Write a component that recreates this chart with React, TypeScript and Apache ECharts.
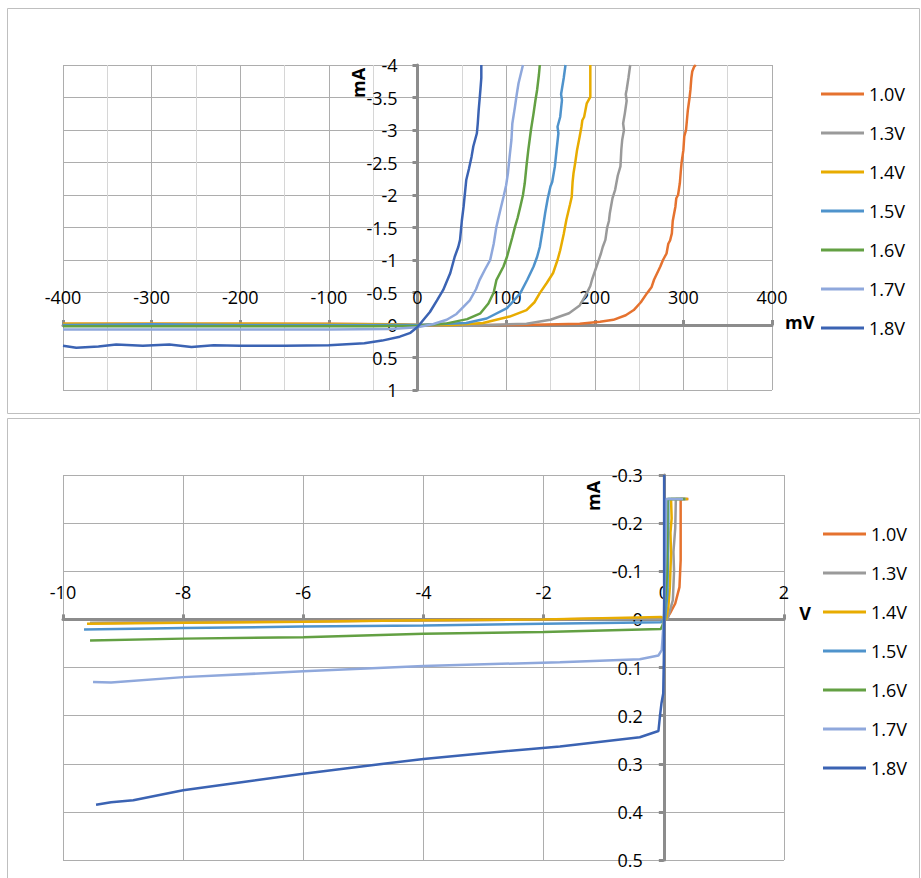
import React, { useEffect, useRef } from "react";
import * as echarts from "echarts";

// ---------- data ----------
const SERIES_NAMES = ["1.0V", "1.3V", "1.4V", "1.5V", "1.6V", "1.7V", "1.8V"];
const SERIES_COLORS = ["#E5722F", "#9A9A9A", "#E8AC00", "#4F93CC", "#63A043", "#8FA8DC", "#3B63B3"];

// Top chart: x in mV, y in mA
const TOP_X_TICKS = [-400, -300, -200, -100, 0, 100, 200, 300, 400];
const TOP_Y_TICKS = [-4, -3.5, -3, -2.5, -2, -1.5, -1, -0.5, 0, 0.5, 1];

const top10V = [[-400, -0.02], [-300, -0.02], [-200, -0.02], [-100, -0.02], [-30, -0.01], [0, 0], [60, 0.0], [120, 0.0], [183, -0.02], [206, -0.05], [221, -0.08], [235, -0.15], [244, -0.23], [252, -0.35], [259, -0.49], [264, -0.58], [267, -0.7], [274, -0.9], [277, -1.0], [281, -1.1], [283, -1.25], [285, -1.3], [287, -1.41], [288, -1.6], [291, -1.82], [292, -1.95], [294, -2.0], [296, -2.18], [297, -2.35], [298, -2.5], [300, -2.69], [301, -2.9], [303, -3.0], [304, -3.15], [305, -3.3], [306, -3.4], [307, -3.5], [308, -3.62], [309, -3.8], [310, -3.9], [312, -3.97], [314, -4.0]];
const top13V = [[-400, -0.01], [-200, -0.01], [-50, -0.01], [0, 0], [60, 0.01], [123, -0.02], [150, -0.08], [171, -0.18], [183, -0.3], [191, -0.49], [195, -0.6], [197, -0.7], [202, -0.9], [207, -1.1], [209, -1.2], [212, -1.31], [214, -1.5], [216, -1.6], [217, -1.72], [220, -1.95], [223, -2.08], [226, -2.3], [229, -2.44], [230, -2.7], [231, -2.85], [233, -3.0], [232, -3.1], [234, -3.26], [236, -3.45], [235, -3.55], [236, -3.62], [238, -3.8], [240, -4.0]];
const top14V = [[-400, -0.02], [-200, -0.02], [-50, -0.01], [0, 0], [40, 0.0], [74, -0.03], [104, -0.13], [123, -0.23], [132, -0.35], [138, -0.49], [146, -0.65], [153, -0.8], [158, -1.0], [161, -1.15], [165, -1.4], [168, -1.62], [172, -1.85], [174, -1.97], [175, -2.2], [176, -2.33], [178, -2.5], [180, -2.69], [183, -2.9], [185, -3.05], [186, -3.15], [188, -3.2], [191, -3.41], [195, -3.51], [195, -4.0]];
const top15V = [[-400, 0.0], [-300, -0.01], [-200, 0.0], [-100, 0.0], [0, 0], [55, -0.03], [78, -0.1], [101, -0.26], [109, -0.38], [116, -0.49], [124, -0.7], [131, -0.9], [135, -1.05], [138, -1.2], [141, -1.45], [144, -1.72], [147, -1.95], [150, -2.13], [152, -2.2], [155, -2.44], [157, -2.7], [159, -2.95], [158, -3.05], [161, -3.2], [163, -3.46], [162, -3.55], [165, -3.8], [167, -4.0]];
const top16V = [[-400, 0.02], [-200, 0.02], [-50, 0.02], [0, 0.01], [33, -0.025], [56, -0.09], [71, -0.18], [80, -0.33], [86, -0.5], [89, -0.69], [97, -0.9], [101, -1.05], [104, -1.2], [107, -1.35], [110, -1.51], [113, -1.65], [116, -1.82], [119, -2.0], [121, -2.18], [123, -2.45], [125, -2.69], [128, -3.0], [131, -3.26], [133, -3.45], [135, -3.62], [137, -3.85], [138, -4.0]];
const top17V = [[-400, 0.07], [-300, 0.07], [-200, 0.07], [-100, 0.07], [-30, 0.06], [0, 0.035], [18, -0.015], [33, -0.08], [44, -0.17], [59, -0.38], [66, -0.55], [70, -0.69], [76, -0.85], [82, -1.0], [86, -1.25], [89, -1.51], [94, -1.8], [97, -1.97], [100, -2.15], [102, -2.33], [104, -2.6], [106, -2.85], [107, -3.1], [110, -3.36], [112, -3.55], [114, -3.72], [119, -4.0]];
const top18V = [[-400, 0.32], [-385, 0.35], [-360, 0.33], [-340, 0.3], [-310, 0.32], [-280, 0.3], [-255, 0.34], [-230, 0.31], [-200, 0.32], [-150, 0.32], [-100, 0.31], [-60, 0.28], [-40, 0.24], [-20, 0.18], [-8, 0.12], [0, 0.03], [14, -0.2], [22, -0.38], [29, -0.54], [37, -0.8], [42, -1.05], [46, -1.2], [48, -1.31], [50, -1.6], [52, -1.82], [55, -2.23], [58, -2.4], [61, -2.59], [63, -2.75], [64, -2.8], [67, -2.95], [68, -3.1], [69, -3.3], [71, -3.62], [72, -3.8], [72, -4.0]];

// Bottom chart: x in V, y in mA
const BOT_X_TICKS = [-10, -8, -6, -4, -2, 0, 2];
const BOT_Y_TICKS = [-0.3, -0.2, -0.1, 0, 0.1, 0.2, 0.3, 0.4, 0.5];

const bot10V = [[-9.55, 0.008], [-8, 0.006], [-6, 0.004], [-4, 0.002], [-2, 0.0], [-0.05, -0.003], [0.04, 0], [0.1, -0.012], [0.19, -0.033], [0.26, -0.067], [0.28, -0.123], [0.28, -0.25], [0.41, -0.25]];
const bot13V = [[-9.55, 0.007], [-6, 0.004], [-2, 0.0], [-0.05, -0.002], [0.06, 0], [0.15, -0.04], [0.17, -0.1], [0.16, -0.14], [0.19, -0.19], [0.2, -0.25], [0.38, -0.25]];
const bot14V = [[-9.6, 0.009], [-8, 0.007], [-6, 0.005], [-4, 0.002], [-2, 0.0], [-0.05, -0.005], [0.04, 0], [0.075, -0.026], [0.1, -0.067], [0.12, -0.137], [0.11, -0.18], [0.13, -0.21], [0.12, -0.25], [0.4, -0.25]];
const bot15V = [[-9.65, 0.021], [-8, 0.018], [-6, 0.015], [-4, 0.0125], [-2, 0.009], [-0.05, 0.006], [0.02, 0], [0.06, -0.053], [0.075, -0.19], [0.075, -0.25], [0.36, -0.25]];
const bot16V = [[-9.55, 0.044], [-8, 0.04], [-6, 0.037], [-4, 0.03], [-2, 0.026], [-0.05, 0.02], [-0.02, 0.012], [0.0, 0.0], [0.05, -0.088], [0.06, -0.23], [0.06, -0.25], [0.35, -0.25]];
const bot17V = [[-9.5, 0.13], [-9.2, 0.131], [-8, 0.12], [-6, 0.108], [-4, 0.097], [-1.73, 0.089], [-0.4, 0.083], [-0.09, 0.075], [-0.035, 0.064], [0.0, 0.0], [0.03, -0.15], [0.04, -0.25], [0.32, -0.25]];
const bot18V = [[-9.45, 0.385], [-9.2, 0.38], [-8.83, 0.376], [-8, 0.355], [-7, 0.338], [-6, 0.321], [-5, 0.305], [-4, 0.29], [-3, 0.278], [-1.73, 0.264], [-0.4, 0.245], [-0.09, 0.232], [-0.06, 0.196], [-0.04, 0.175], [-0.01, 0.154], [0.0, 0.085], [0.005, 0], [0.005, -0.3]];

const TOP_DATA = [top10V, top13V, top14V, top15V, top16V, top17V, top18V];
const BOT_DATA = [bot10V, bot13V, bot14V, bot15V, bot16V, bot17V, bot18V];

const FONT = "'Open Sans', 'Noto Sans', sans-serif";
const AXIS_COLOR = "#8C8C8C";
const GRID_COLOR = "#ADADAD";
const MINOR_COLOR = "#D6D6D6";

const TOP_GRID = { left: 63, top: 65, width: 709, height: 325 };
const BOT_GRID = { left: 63, top: 475, width: 721, height: 385 };

// fraction of the axis span at which value 0 sits
const zeroFrac = (ticks: number[]) => (0 - ticks[0]) / (ticks[ticks.length - 1] - ticks[0]);

export default function App() {
  const ref = useRef<HTMLDivElement>(null);

  useEffect(() => {
    if (!ref.current) return;
    const chart = echarts.init(ref.current, undefined, { renderer: "svg" });

    const labelStyle = { color: "#000", fontSize: 18, fontFamily: FONT };

    const series: any[] = [];
    SERIES_NAMES.forEach((name, i) => {
      [TOP_DATA, BOT_DATA].forEach((set, g) => {
        series.push({
          type: "line",
          name,
          xAxisIndex: g,
          yAxisIndex: g,
          data: set[i],
          symbol: "none",
          showSymbol: false,
          lineStyle: { width: 2.5, color: SERIES_COLORS[i] },
          itemStyle: { color: SERIES_COLORS[i] },
          clip: true,
        });
      });
    });

    const legendBase = {
      orient: "vertical",
      icon: "rect",
      itemWidth: 43,
      itemHeight: 3,
      itemGap: 21,
      padding: 0,
      selectedMode: false,
      data: SERIES_NAMES,
      textStyle: { color: "#000", fontSize: 18, lineHeight: 18, fontFamily: FONT },
    };

    const mkX = (gi: number, ticks: number[], yTicks: number[], grid: any, interval: number, margin: number, minor: boolean) => ({
      type: "value",
      gridIndex: gi,
      position: "top",
      // y axis is inverted: min at top, so zero sits zeroFrac * height below the top edge
      offset: -zeroFrac(yTicks) * grid.height,
      min: ticks[0],
      max: ticks[ticks.length - 1],
      interval,
      axisLine: { show: true, onZero: false, lineStyle: { color: AXIS_COLOR, width: 3 } },
      axisTick: { show: true, inside: false, length: 5, lineStyle: { color: AXIS_COLOR, width: 3 } },
      axisLabel: { ...labelStyle, margin, hideOverlap: false },
      splitLine: { show: true, lineStyle: { color: GRID_COLOR, width: 1 } },
      minorTick: { show: false, splitNumber: 2 },
      minorSplitLine: { show: minor, lineStyle: { color: MINOR_COLOR, width: 1 } },
    });

    const mkY = (gi: number, ticks: number[], xTicks: number[], grid: any, interval: number, margin: number) => ({
      type: "value",
      gridIndex: gi,
      position: "left",
      inverse: true,
      offset: -zeroFrac(xTicks) * grid.width,
      min: ticks[0],
      max: ticks[ticks.length - 1],
      interval,
      axisLine: { show: true, onZero: false, lineStyle: { color: AXIS_COLOR, width: 3 } },
      axisTick: { show: true, inside: false, length: 5, lineStyle: { color: AXIS_COLOR, width: 3 } },
      axisLabel: { ...labelStyle, margin, hideOverlap: false },
      splitLine: { show: true, lineStyle: { color: GRID_COLOR, width: 1 } },
    });

    const option: any = {
      animation: false,
      backgroundColor: "#fff",
      grid: [
        { ...TOP_GRID, outerBoundsMode: "none", containLabel: false },
        { ...BOT_GRID, outerBoundsMode: "none", containLabel: false },
      ],
      xAxis: [
        mkX(0, TOP_X_TICKS, TOP_Y_TICKS, TOP_GRID, 100, 19, true),
        mkX(1, BOT_X_TICKS, BOT_Y_TICKS, BOT_GRID, 2, 18, false),
      ],
      yAxis: [
        mkY(0, TOP_Y_TICKS, TOP_X_TICKS, TOP_GRID, 0.5, 20),
        mkY(1, BOT_Y_TICKS, BOT_X_TICKS, BOT_GRID, 0.1, 21),
      ],
      legend: [
        { ...legendBase, left: 821, top: 85 },
        { ...legendBase, left: 823, top: 525 },
      ],
      graphic: [
        {
          type: "rect",
          silent: true,
          z: -10,
          shape: { x: 7.5, y: 8.5, width: 912, height: 405 },
          style: { fill: "none", stroke: "#BFBFBF", lineWidth: 1 },
        },
        {
          type: "rect",
          silent: true,
          z: -10,
          shape: { x: 7.5, y: 418.5, width: 912, height: 470 },
          style: { fill: "none", stroke: "#BFBFBF", lineWidth: 1 },
        },
        {
          type: "text",
          x: 358,
          y: 83,
          rotation: Math.PI / 2,
          style: { text: "mA", fill: "#000", font: `bold 18px ${FONT}`, align: "center", verticalAlign: "middle" },
        },
        {
          type: "text",
          x: 785,
          y: 322,
          style: { text: "mV", fill: "#000", font: `bold 18px ${FONT}`, align: "left", verticalAlign: "middle" },
        },
        {
          type: "text",
          x: 593,
          y: 496,
          rotation: Math.PI / 2,
          style: { text: "mA", fill: "#000", font: `bold 18px ${FONT}`, align: "center", verticalAlign: "middle" },
        },
        {
          type: "text",
          x: 805,
          y: 613,
          style: { text: "V", fill: "#000", font: `bold 18px ${FONT}`, align: "center", verticalAlign: "middle" },
        },
      ],
      series,
    };

    chart.setOption(option);
    return () => chart.dispose();
  }, []);

  return (
    <div
      ref={ref}
      style={{ position: "absolute", left: 0, top: 0, width: 921, height: 878, background: "#fff" }}
    />
  );
}
